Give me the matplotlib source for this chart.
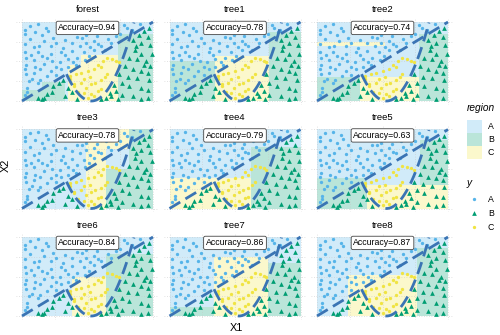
import matplotlib.pyplot as plt
from matplotlib.patches import Rectangle, FancyBboxPatch
from matplotlib.lines import Line2D
import numpy as np

plt.rcParams['font.family'] = ['Liberation Sans', 'DejaVu Sans']

# Okabe-Ito colours for the three classes
point_cols = {'A': '#56B4E9', 'B': '#009E73', 'C': '#F0E442'}
line_col = '#3A74B4'


def lighten(hex_col, a=0.27):
    c = np.array([int(hex_col[i:i + 2], 16) for i in (1, 3, 5)]) / 255.0
    return tuple(1 - a + a * c)


fill_cols = {k: lighten(v) for k, v in point_cols.items()}

panel_names = ['forest', 'tree1', 'tree2', 'tree3', 'tree4', 'tree5', 'tree6', 'tree7', 'tree8']
accuracy = [0.94, 0.78, 0.74, 0.78, 0.79, 0.63, 0.84, 0.86, 0.87]

# observations (X1, X2) by class
pts_A = [(0.02, 0.90), (0.02, 0.85), (0.10, 0.87), (0.24, 0.80), (0.15, 0.83), (0.42, 0.81),
         (0.46, 0.80), (0.49, 0.83), (0.60, 0.87), (0.68, 0.90), (0.78, 0.96), (0.02, 0.72),
         (0.02, 0.62), (0.09, 0.68), (0.17, 0.76), (0.22, 0.69), (0.33, 0.77), (0.38, 0.73),
         (0.49, 0.74), (0.55, 0.76), (0.60, 0.70), (0.63, 0.64), (0.03, 0.55), (0.09, 0.52),
         (0.15, 0.57), (0.23, 0.50), (0.29, 0.49), (0.35, 0.53), (0.42, 0.55), (0.51, 0.57),
         (0.03, 0.45), (0.10, 0.43), (0.17, 0.47), (0.26, 0.43), (0.35, 0.43), (0.41, 0.45),
         (0.03, 0.34), (0.09, 0.36), (0.19, 0.32), (0.26, 0.33), (0.04, 0.16), (0.04, 0.12),
         (0.12, 0.23), (0.08, 0.28), (0.80, 0.92), (0.84, 0.88), (0.72, 0.82), (0.66, 0.78),
         (0.55, 0.64), (0.47, 0.62), (0.38, 0.63), (0.30, 0.62), (0.22, 0.60), (0.12, 0.62),
         (0.06, 0.78), (0.28, 0.90), (0.35, 0.95), (0.52, 0.93), (0.12, 0.97), (0.90, 0.98),
         (0.62, 0.96), (0.44, 0.70), (0.20, 0.88), (0.02, 0.08), (0.06, 0.95), (0.18, 0.93),
         (0.57, 0.82), (0.64, 0.86), (0.70, 0.93), (0.75, 0.85), (0.13, 0.70), (0.26, 0.74),
         (0.31, 0.67), (0.52, 0.68), (0.58, 0.72), (0.68, 0.74), (0.07, 0.58), (0.19, 0.55),
         (0.33, 0.58), (0.39, 0.49), (0.48, 0.52), (0.14, 0.40), (0.22, 0.38), (0.30, 0.40),
         (0.05, 0.25), (0.14, 0.27), (0.02, 0.40), (0.83, 0.87), (0.84, 0.90)]
pts_B = [(0.12, 0.04), (0.15, 0.02), (0.17, 0.04), (0.23, 0.11), (0.24, 0.19), (0.28, 0.23),
         (0.31, 0.26), (0.35, 0.16), (0.38, 0.12), (0.19, 0.09), (0.33, 0.06), (0.42, 0.03),
         (0.85, 0.77), (0.91, 0.74), (0.96, 0.81), (0.98, 0.71), (0.86, 0.64), (0.91, 0.60),
         (0.82, 0.54), (0.88, 0.53), (0.95, 0.50), (0.98, 0.44), (0.79, 0.44), (0.85, 0.40),
         (0.91, 0.38), (0.96, 0.36), (0.81, 0.31), (0.88, 0.29), (0.97, 0.27), (0.76, 0.23),
         (0.82, 0.19), (0.91, 0.16), (0.96, 0.14), (0.72, 0.13), (0.76, 0.08), (0.85, 0.06),
         (0.91, 0.03), (0.96, 0.04), (0.68, 0.06), (0.73, 0.02), (0.64, 0.04), (0.60, 0.02),
         (0.93, 0.88), (0.97, 0.92), (0.89, 0.84), (0.99, 0.60), (0.70, 0.20), (0.74, 0.34),
         (0.67, 0.10), (0.87, 0.70), (0.93, 0.46)]
pts_C = [(0.65, 0.54), (0.69, 0.53), (0.72, 0.51), (0.74, 0.49), (0.37, 0.32), (0.41, 0.34),
         (0.45, 0.36), (0.50, 0.38), (0.55, 0.40), (0.60, 0.43), (0.40, 0.21), (0.45, 0.23),
         (0.49, 0.17), (0.53, 0.21), (0.56, 0.23), (0.60, 0.26), (0.63, 0.30), (0.65, 0.34),
         (0.43, 0.12), (0.47, 0.10), (0.53, 0.09), (0.58, 0.13), (0.60, 0.15), (0.37, 0.28),
         (0.40, 0.19), (0.62, 0.50), (0.58, 0.46), (0.52, 0.30), (0.47, 0.28), (0.55, 0.06),
         (0.50, 0.04)]

# predicted regions: class A everywhere, then (x0, x1, y0, y1, class) blocks on top
regions = {
    'forest': [(0.73, 1.00, 0.00, 0.85, 'B'), (0.35, 0.45, 0.00, 0.45, 'C'),
               (0.45, 0.73, 0.00, 0.58, 'C'), (0.00, 0.33, 0.00, 0.14, 'B'),
               (0.15, 0.33, 0.14, 0.24, 'B')],
    'tree1': [(0.00, 0.35, 0.00, 0.50, 'B'), (0.35, 0.76, 0.00, 0.57, 'C'),
              (0.76, 1.00, 0.00, 0.87, 'B')],
    'tree2': [(0.00, 0.52, 0.70, 0.75, 'C'), (0.00, 0.33, 0.00, 0.30, 'B'),
              (0.33, 0.78, 0.00, 0.30, 'C'), (0.78, 1.00, 0.00, 0.85, 'B')],
    'tree3': [(0.49, 0.64, 0.00, 1.00, 'C'), (0.64, 0.82, 0.75, 1.00, 'C'),
              (0.64, 0.82, 0.00, 0.50, 'B'), (0.82, 1.00, 0.00, 1.00, 'B')],
    'tree4': [(0.00, 0.62, 0.00, 0.38, 'C'), (0.62, 1.00, 0.00, 0.78, 'B')],
    'tree5': [(0.00, 0.38, 0.00, 0.38, 'B'), (0.38, 1.00, 0.00, 0.30, 'C'),
              (0.79, 1.00, 0.30, 0.87, 'B')],
    'tree6': [(0.38, 0.64, 0.00, 0.50, 'C'), (0.64, 1.00, 0.00, 0.79, 'B')],
    'tree7': [(0.00, 0.34, 0.00, 0.12, 'B'), (0.34, 0.75, 0.00, 0.75, 'C'),
              (0.75, 1.00, 0.00, 0.67, 'B')],
    'tree8': [(0.24, 0.76, 0.00, 0.52, 'C'), (0.76, 1.00, 0.00, 0.86, 'B')],
}

# true boundaries
line_x = [0.0, 1.0]
parab_x = np.linspace(0.34, 0.855, 60)
parab_y = 9.4 * (parab_x - 0.53) ** 2

W, H = 500, 335
fig = plt.figure(figsize=(W / 100, H / 100), dpi=100)
pad = 0.045

for k, name in enumerate(panel_names):
    r, c = divmod(k, 3)
    tl = 22 + 147.5 * c
    tt = 22 + 107.5 * r
    tw, th = 131, 79
    ax = fig.add_axes([(tl - pad * tw) / W, 1 - (tt + th * (1 + pad)) / H,
                       tw * (1 + 2 * pad) / W, th * (1 + 2 * pad) / H])
    ax.set_xlim(-pad, 1 + pad)
    ax.set_ylim(-pad, 1 + pad)
    ax.axis('off')

    ax.add_patch(Rectangle((0, 0), 1, 1, fc=fill_cols['A'], lw=0, zorder=1))
    for x0, x1, y0, y1, cl in regions[name]:
        ax.add_patch(Rectangle((x0, y0), x1 - x0, y1 - y0, fc=fill_cols[cl], lw=0, zorder=1))

    for g in [0, 0.25, 0.5, 0.75, 1.0]:
        ax.axhline(g, color='#c8c8c8', lw=0.6, ls=(0, (1, 2)), alpha=0.7, zorder=2)
        ax.axvline(g, color='#c8c8c8', lw=0.6, ls=(0, (1, 2)), alpha=0.7, zorder=2)

    for pts, cl, mk, ms in [(pts_A, 'A', 'o', 2.4), (pts_B, 'B', '^', 3.4), (pts_C, 'C', 'o', 2.4)]:
        xs, ys = zip(*pts)
        ax.plot(xs, ys, ls='none', marker=mk, ms=ms, mfc=point_cols[cl], mec='none', zorder=3)

    ax.plot(line_x, line_x, color=line_col, lw=2.0, dashes=(4.5, 2.2), zorder=4)
    ax.plot(parab_x, parab_y, color=line_col, lw=2.0, dashes=(4.5, 2.2), zorder=4)

    ax.text(0.5, 0.925, 'Accuracy=%.2f' % accuracy[k], ha='center', va='center', fontsize=6.3,
            zorder=6, bbox=dict(boxstyle='round,pad=0.25,rounding_size=0.2', fc='white',
                                ec='#444444', lw=0.6))

    fig.text((tl + tw / 2) / W, 1 - (tt - 12) / H, name, ha='center', va='center', fontsize=6.8)

fig.text(236 / W, 1 - 328 / H, 'X1', ha='center', va='center', fontsize=7.8)
fig.text(6 / W, 1 - 165 / H, 'X2', ha='center', va='center', fontsize=7.8, rotation=90)

# legends
fig.text(467 / W, 1 - 108 / H, 'region', ha='left', va='center', fontsize=7.3, style='italic')
for i, cl in enumerate(['A', 'B', 'C']):
    y0 = 120 + 13 * i
    fig.patches.append(Rectangle((467 / W, 1 - (y0 + 13) / H), 15 / W, 13 / H,
                                 fc=fill_cols[cl], lw=0, transform=fig.transFigure))
    fig.text(488 / W, 1 - (y0 + 6.5) / H, cl, ha='left', va='center', fontsize=6.3)

fig.text(467 / W, 1 - 183 / H, 'y', ha='left', va='center', fontsize=7.3, style='italic')
for i, (cl, mk, ms) in enumerate([('A', 'o', 2.4), ('B', '^', 3.4), ('C', 'o', 2.4)]):
    yc = 199 + 14 * i
    fig.lines.append(Line2D([474 / W], [1 - yc / H], marker=mk, ms=ms, mfc=point_cols[cl],
                            mec='none', ls='none', transform=fig.transFigure))
    fig.text(488 / W, 1 - yc / H, cl, ha='left', va='center', fontsize=6.3)

fig.savefig('out.png', dpi=100)
